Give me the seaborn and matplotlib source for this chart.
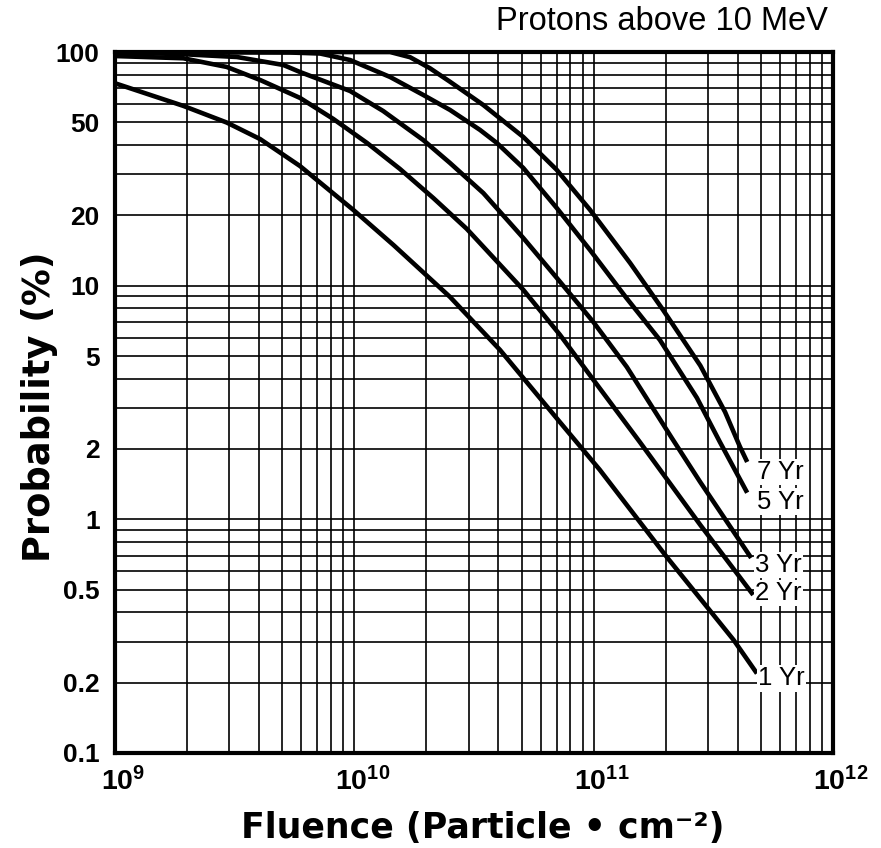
import numpy as np
import pandas as pd
import matplotlib
matplotlib.use("Agg")
import matplotlib.pyplot as plt
import matplotlib.transforms as mtransforms
from matplotlib.ticker import FixedLocator, FixedFormatter, LogLocator, NullFormatter
import seaborn as sns

# ---------------- data ----------------
durations = ["1 Yr", "2 Yr", "3 Yr", "5 Yr", "7 Yr"]

fluence_1yr = [1.0e9, 1.93e9, 2.93e9, 4.04e9, 5.93e9, 9.9e9, 1.46e10, 2.51e10,
               4.06e10, 7.24e10, 1.06e11, 2.02e11, 3.84e11, 4.81e11]
prob_1yr = [73.5, 58.8, 49.9, 42.4, 32.5, 21.1, 14.9, 8.95,
            5.31, 2.6, 1.63, 0.69, 0.305, 0.219]

fluence_2yr = [1.0e9, 1.93e9, 2.93e9, 4.04e9, 5.93e9, 8.17e9, 1.13e10, 1.55e10,
               2.14e10, 2.95e10, 5.08e10, 7.24e10, 9.98e10, 1.56e11, 2.79e11, 4.64e11]
prob_2yr = [96.1, 94.0, 86.3, 75.9, 63.6, 51.7, 40.8, 31.6,
            23.7, 17.5, 9.6, 6.15, 3.95, 2.14, 0.946, 0.475]

fluence_3yr = [1.0e9, 1.87e9, 3.23e9, 5.05e9, 5.93e9, 9.6e9, 1.32e10, 1.94e10,
               2.51e10, 3.46e10, 5.08e10, 7.01e10, 9.97e10, 1.375e11, 2.12e11, 2.78e11, 4.55e11]
prob_3yr = [99.5, 98.0, 95.2, 88.0, 82.1, 68.1, 55.9, 42.0,
            33.5, 24.9, 16.0, 10.8, 6.99, 4.49, 2.23, 1.45, 0.684]

fluence_5yr = [1.0e9, 5.38e9, 7.2e9, 9.6e9, 1.41e10, 1.94e10, 2.51e10, 3.35e10,
               3.94e10, 5.08e10, 7.01e10, 9.66e10, 1.37e11, 1.89e11, 2.70e11, 3.37e11, 4.38e11]
prob_5yr = [100, 99.5, 98.5, 92.4, 78.2, 65.5, 56.5, 46.4,
            40.8, 31.9, 21.5, 14.2, 8.86, 5.86, 3.31, 2.14, 1.30]

fluence_7yr = [1.0e9, 1.41e10, 1.71e10, 2.07e10, 2.51e10, 3.46e10, 5.08e10, 7.01e10,
               9.66e10, 1.42e11, 1.95e11, 2.79e11, 3.54e11, 4.08e11, 4.38e11]
prob_7yr = [100, 100, 95.0, 85.2, 74.6, 59.3, 43.3, 31.3,
            21.1, 12.5, 7.87, 4.55, 2.88, 2.05, 1.76]

x_tick_values = [1e9, 1e10, 1e11, 1e12]
x_tick_labels = [r"$\mathbf{10^{9}}$", r"$\mathbf{10^{10}}$",
                 r"$\mathbf{10^{11}}$", r"$\mathbf{10^{12}}$"]
y_tick_values = [0.1, 0.2, 0.5, 1, 2, 5, 10, 20, 50, 100]
y_tick_labels = ["0.1", "0.2", "0.5", "1", "2", "5", "10", "20", "50", "100"]

title_text = "Protons above 10 MeV"
x_label = "Fluence (Particle \u2022 cm\u207b\u00b2)"
y_label = "Probability (%)"

# ---------------- build table ----------------
series = {
    "1 Yr": (fluence_1yr, prob_1yr),
    "2 Yr": (fluence_2yr, prob_2yr),
    "3 Yr": (fluence_3yr, prob_3yr),
    "5 Yr": (fluence_5yr, prob_5yr),
    "7 Yr": (fluence_7yr, prob_7yr),
}
frames = []
for name in durations:
    fx, py = series[name]
    frames.append(pd.DataFrame({"fluence": fx, "probability": py, "duration": name}))
df = pd.concat(frames, ignore_index=True)

# ---------------- style ----------------
sns.set_theme(style="white")
plt.rcParams["font.family"] = ["Liberation Sans", "DejaVu Sans"]
plt.rcParams["mathtext.fontset"] = "custom"
plt.rcParams["mathtext.rm"] = "Liberation Sans"
plt.rcParams["mathtext.bf"] = "Liberation Sans:bold"

W, H = 881, 848
fig = plt.figure(figsize=(W / 100, H / 100), dpi=100)
fig.patch.set_facecolor("white")
ax = fig.add_axes([115 / W, 1 - 753 / H, (833 - 115) / W, (753 - 52) / H])
ax.set_facecolor("white")

sns.lineplot(data=df, x="fluence", y="probability", hue="duration",
             units="duration", estimator=None, sort=False,
             palette={d: "black" for d in durations}, legend=False,
             linewidth=3.3, ax=ax, zorder=3)
for ln in ax.lines:
    ln.set_solid_joinstyle("round")
    ln.set_solid_capstyle("butt")

ax.set_xscale("log")
ax.set_yscale("log")
ax.set_xlim(1e9, 1e12)
ax.set_ylim(0.1, 100)

ax.xaxis.set_major_locator(FixedLocator(x_tick_values))
ax.xaxis.set_major_formatter(FixedFormatter(x_tick_labels))
ax.xaxis.set_minor_locator(LogLocator(base=10, subs=np.arange(2, 10)))
ax.xaxis.set_minor_formatter(NullFormatter())
ax.yaxis.set_major_locator(FixedLocator(y_tick_values))
ax.yaxis.set_major_formatter(FixedFormatter(y_tick_labels))
ax.yaxis.set_minor_locator(LogLocator(base=10, subs=np.arange(1, 10)))
ax.yaxis.set_minor_formatter(NullFormatter())

ax.grid(which="both", color="black", linewidth=1.2, zorder=1)
ax.set_axisbelow(True)
ax.tick_params(which="both", length=0)
ax.tick_params(axis="x", pad=10, labelsize=20.5)
ax.tick_params(axis="y", pad=11, labelsize=19)
for lab in ax.get_yticklabels():
    lab.set_fontweight("bold")
    lab.set_color("black")
shift = mtransforms.ScaledTranslation(8 / 100, 0, fig.dpi_scale_trans)
for lab in ax.get_xticklabels():
    lab.set_color("black")
    lab.set_transform(lab.get_transform() + shift)

for sp in ax.spines.values():
    sp.set_color("black")
    sp.set_linewidth(3)
    sp.set_zorder(5)

ax.set_xlabel("")
ax.set_ylabel("")

# axis titles
fig.text(483 / W, 1 - 838 / H, x_label, ha="center", va="baseline",
         fontsize=25, fontweight="bold", family=["DejaVu Sans"], color="black")
fig.text(50 / W, 1 - 407 / H, y_label, ha="center", va="baseline",
         rotation=90, rotation_mode="anchor",
         fontsize=26.5, fontweight="bold", family=["DejaVu Sans"], color="black")
fig.text(828 / W, 1 - 22 / H, title_text, ha="right", va="center",
         fontsize=23.5, color="black")

# curve labels
label_offsets = {"7 Yr": (10, -10), "5 Yr": (10, -9), "3 Yr": (4, -7),
                 "2 Yr": (2, 2), "1 Yr": (1, -5)}
for name in durations:
    fx, py = series[name]
    ax.annotate(name, xy=(fx[-1], py[-1]), xytext=label_offsets[name],
                textcoords="offset pixels", ha="left", va="center",
                fontsize=18.5, color="black", zorder=6,
                bbox=dict(boxstyle="square,pad=0.05", fc="white", ec="none"))

fig.savefig("out.png", dpi=100, facecolor="white")
